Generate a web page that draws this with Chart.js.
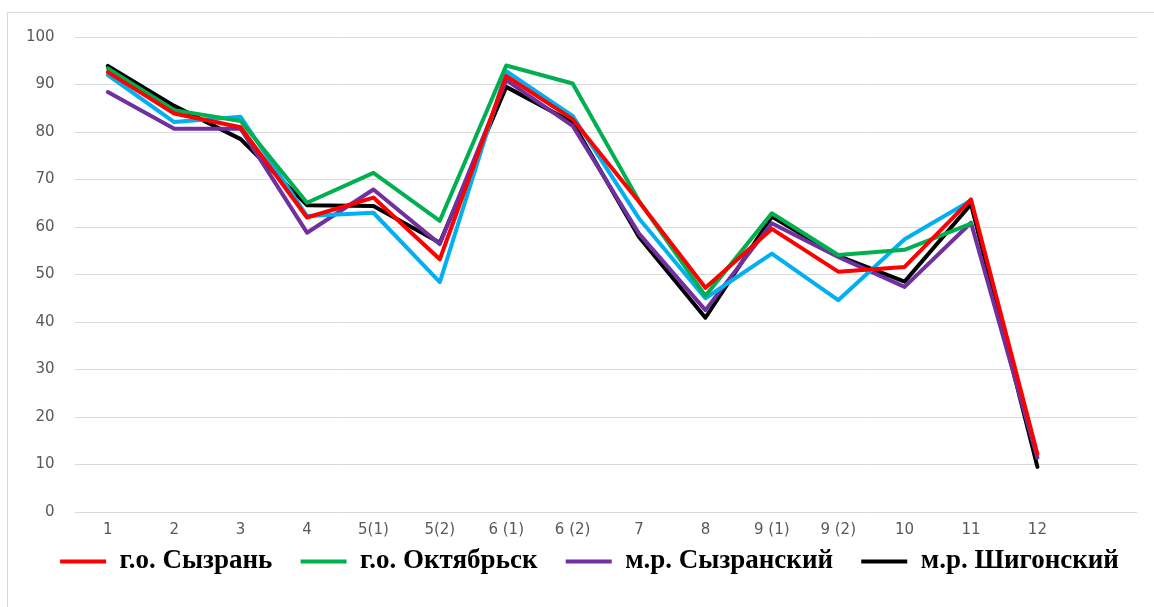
<!DOCTYPE html>
<html>
<head>
<meta charset="utf-8">
<script src="https://cdn.jsdelivr.net/npm/chart.js@4.4.1/dist/chart.umd.min.js"></script>
<style>
  html, body { margin: 0; padding: 0; background: #fff; }
  #frame {
    position: absolute; left: 7px; top: 12px; width: 1160px; height: 610px;
    border: 1px solid #d9d9d9; box-sizing: border-box;
  }
  #wrap { position: absolute; left: 0; top: 0; width: 1154px; height: 607px; }
</style>
</head>
<body>
<div id="frame"></div>
<div id="wrap"><canvas id="chart"></canvas></div>
<script>
'use strict';

const categories = ['1', '2', '3', '4', '5(1)', '5(2)', '6 (1)', '6 (2)', '7', '8', '9 (1)', '9 (2)', '10', '11', '12', ''];

const syzranCity = [92.6, 83.9, 81.0, 62.0, 66.2, 53.2, 91.8, 82.7, 65.3, 47.2, 59.6, 50.6, 51.6, 65.8, 12.2];
const oktyabrsk = [93.4, 84.6, 82.3, 65.1, 71.4, 61.3, 94.0, 90.2, 65.5, 45.5, 62.9, 54.1, 55.2, 60.7, null];
const unnamedSeries = [92.0, 82.1, 83.2, 62.3, 63.0, 48.4, 92.8, 83.4, 61.8, 45.0, 54.4, 44.6, 57.4, 65.6, null];
const syzranDistrict = [88.4, 80.7, 80.7, 58.8, 67.9, 56.4, 90.9, 81.3, 58.6, 42.5, 60.8, 53.7, 47.4, 60.9, 11.4];
const shigony = [93.9, 85.5, 78.5, 64.6, 64.4, 56.7, 89.5, 82.0, 57.9, 40.9, 62.2, 53.9, 48.5, 64.8, 9.5];

const yTicks = [0, 10, 20, 30, 40, 50, 60, 70, 80, 90, 100];

function series(label, data, color, inLegend) {
    return {
        label: label,
        data: data,
        borderColor: color,
        backgroundColor: color,
        borderWidth: 4,
        pointRadius: 0,
        pointHoverRadius: 0,
        tension: 0,
        fill: false,
        spanGaps: false,
        borderJoinStyle: 'round',
        borderCapStyle: 'round',
        inLegend: inLegend
    };
}

// trailing spaces widen the gap between legend entries without
// making the legend taller (labels.padding is shared by both)
const legendGap = '   ';

// the legend in the picture sits a bit right of the canvas centre
const legendShift = {
    id: 'legendShift',
    afterLayout(chart) {
        if (chart.legend) {
            chart.legend.left += 18;
            chart.legend.right += 18;
        }
    }
};

const ctx = document.getElementById('chart').getContext('2d');
new Chart(ctx, {
    type: 'line',
    data: {
        labels: categories,
        datasets: [
            series('г.о. Сызрань', syzranCity, '#ff0000', true),
            series('г.о. Октябрьск', oktyabrsk, '#00b050', true),
            series('', unnamedSeries, '#00b0f0', false),
            series('м.р. Сызранский', syzranDistrict, '#7030a0', true),
            series('м.р. Шигонский', shigony, '#000000', true)
        ]
    },
    plugins: [legendShift],
    options: {
        responsive: true,
        maintainAspectRatio: false,
        animation: false,
        layout: {
            padding: { left: 6, right: 17, top: 37, bottom: 22 }
        },
        scales: {
            x: {
                offset: true,
                grid: { display: false },
                border: { display: false },
                ticks: {
                    color: '#595959',
                    font: { family: 'DejaVu Sans', size: 15 },
                    padding: 1,
                    maxRotation: 0,
                    autoSkip: false
                }
            },
            y: {
                min: 0,
                max: 100,
                afterBuildTicks: (axis) => {
                    axis.ticks = yTicks.map(v => ({ value: v }));
                },
                grid: { color: '#d9d9d9', lineWidth: 1, drawTicks: false },
                border: { display: false },
                ticks: {
                    color: '#595959',
                    font: { family: 'DejaVu Sans', size: 15 },
                    padding: 20
                }
            }
        },
        plugins: {
            tooltip: { enabled: false },
            legend: {
                position: 'bottom',
                labels: {
                    color: '#000000',
                    font: { family: 'Liberation Serif', size: 27, weight: 'bold' },
                    usePointStyle: true,
                    pointStyle: 'line',
                    pointStyleWidth: 46,
                    padding: 8,
                    filter: (item, data) => data.datasets[item.datasetIndex].inLegend,
                    generateLabels: (chart) => {
                        const items = Chart.defaults.plugins.legend.labels.generateLabels(chart);
                        const shown = items.filter(it => chart.data.datasets[it.datasetIndex].inLegend);
                        const last = shown[shown.length - 1];
                        items.forEach(it => {
                            if (it !== last) it.text = it.text + legendGap;
                        });
                        return items;
                    }
                }
            }
        }
    }
});
</script>
</body>
</html>
